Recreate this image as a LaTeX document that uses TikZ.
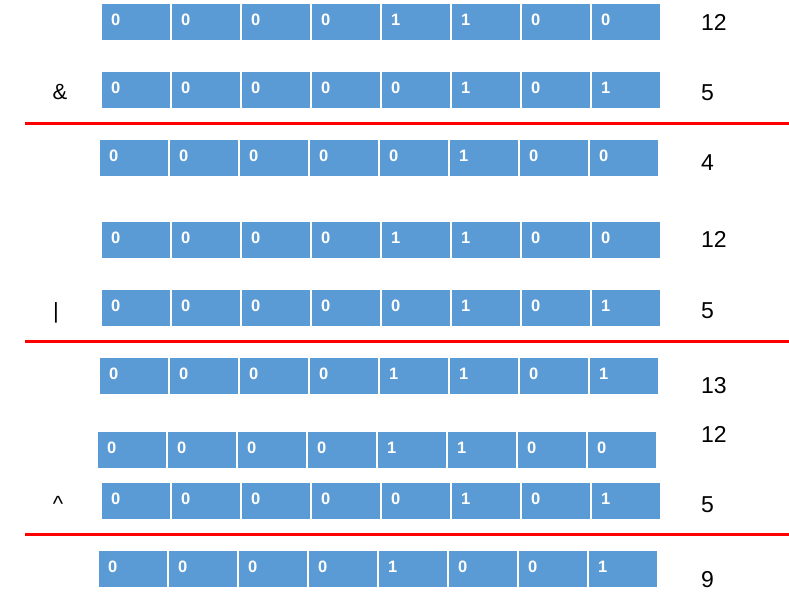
\documentclass[tikz,border=0pt]{standalone}
\usepackage{fontspec}
\setmainfont{Liberation Sans}
\definecolor{cellblue}{HTML}{5B9BD5}
\tikzset{
  bitcell/.style={rectangle, fill=cellblue, draw=white, line width=1.2pt, minimum width=70pt, minimum height=37.5pt, anchor=north west, inner sep=0pt, outer sep=0pt},
  bittext/.style={anchor=base west, inner sep=0pt, text=white, font=\bfseries\fontsize{16.5}{16.5}\selectfont},
  numtext/.style={anchor=base west, inner sep=0pt, font=\fontsize{23}{23}\selectfont},
  optext/.style={anchor=base, inner sep=0pt, font=\fontsize{22}{22}\selectfont},
  redline/.style={draw=red, line width=3pt}
}
\begin{document}
\begin{tikzpicture}[x=1pt,y=-1pt]
\useasboundingbox (0,0) rectangle (789,605);
\foreach \r/\x/\y/\bits in {1/101/3/{0,0,0,0,1,1,0,0},2/101/71/{0,0,0,0,0,1,0,1},3/99/139/{0,0,0,0,0,1,0,0},4/101/221/{0,0,0,0,1,1,0,0},5/101/289/{0,0,0,0,0,1,0,1},6/99/357/{0,0,0,0,1,1,0,1},7/97/431/{0,0,0,0,1,1,0,0},8/101/482/{0,0,0,0,0,1,0,1},9/98/550/{0,0,0,0,1,0,0,1}}{
  \foreach \b [count=\c] in \bits {
    \node[bitcell] (r\r c\c) at ({\x+70*(\c-1)},\y) {};
    \node[bittext] (t\r c\c) at ([xshift=10pt,yshift=-22pt]r\r c\c.north west) {\b};
  }
}
% right values
\node[numtext] (v1) at (701,30) {12};
\node[numtext] (v2) at (701,100) {5};
\node[numtext] (v3) at (701,170) {4};
\node[numtext] (v4) at (701,247) {12};
\node[numtext] (v5) at (701,318) {5};
\node[numtext] (v6) at (701,393) {13};
\node[numtext] (v7) at (701,442) {12};
\node[numtext] (v8) at (701,512) {5};
\node[numtext] (v9) at (701,587) {9};
% operators
\node[optext] (opand) at (60,99) {\&};
\node[optext] (opor) at (56,318) {|};
\node[optext] (opxor) at (58,511) {\^{}};
% red lines
\coordinate (l1a) at (25,123); \coordinate (l1b) at (789,123);
\coordinate (l2a) at (25,341); \coordinate (l2b) at (789,341);
\coordinate (l3a) at (25,534); \coordinate (l3b) at (789,534);
\draw[redline] (l1a) -- (l1b);
\draw[redline] (l2a) -- (l2b);
\draw[redline] (l3a) -- (l3b);
\end{tikzpicture}
\end{document}
